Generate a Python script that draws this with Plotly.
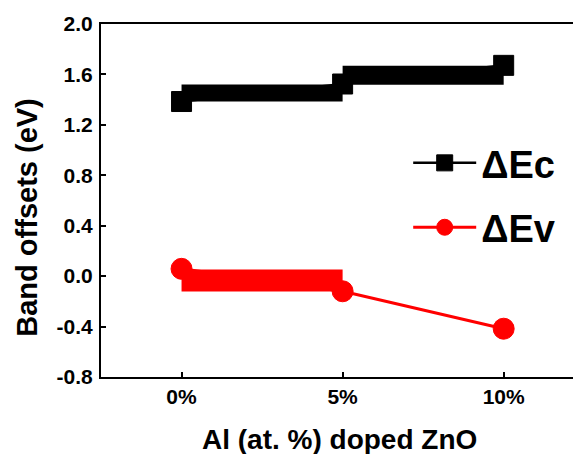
import plotly.graph_objects as go

# Data
x_pct = [0, 5, 10]
tick_text = ["0%", "5%", "10%"]
dEc = [1.385, 1.524, 1.672]
dEv = [0.058, -0.12, -0.417]

# Flat bands drawn across the composition intervals
ec_band1_x = [0, 5]
ec_band1_y = [1.452, 1.452]
ec_band2_x = [5, 10]
ec_band2_y = [1.593, 1.593]
ev_band_x = [0, 5]
ev_band_y = [-0.034, -0.034]

y_ticks = [-0.8, -0.4, 0.0, 0.4, 0.8, 1.2, 1.6, 2.0]

FONT = "Liberation Sans, Arial, sans-serif"

fig = go.Figure()

fig.add_trace(go.Scatter(x=ec_band1_x, y=ec_band1_y, mode="lines",
                         line=dict(color="black", width=17), showlegend=False, hoverinfo="skip"))
fig.add_trace(go.Scatter(x=ec_band2_x, y=ec_band2_y, mode="lines",
                         line=dict(color="black", width=19), showlegend=False, hoverinfo="skip"))
fig.add_trace(go.Scatter(x=ev_band_x, y=ev_band_y, mode="lines",
                         line=dict(color="red", width=22), showlegend=False, hoverinfo="skip"))

fig.add_trace(go.Scatter(x=x_pct, y=dEc, mode="lines+markers", name="ΔEc",
                         legendgroup="ec",
                         line=dict(color="black", width=2.5),
                         marker=dict(symbol="square", size=20, color="black",
                                     line=dict(color="black", width=1))))
fig.add_trace(go.Scatter(x=x_pct, y=dEv, mode="lines+markers", name="ΔEv",
                         legendgroup="ev",
                         line=dict(color="red", width=3),
                         marker=dict(symbol="circle", size=21, color="red",
                                     line=dict(color="red", width=1))))

# The page body has an 8px default margin, so the figure is sized to fit inside it.
fig.update_layout(
    width=573, height=446,
    margin=dict(l=93, r=0, t=16, b=76.5),
    paper_bgcolor="white", plot_bgcolor="white",
    font=dict(family=FONT, color="black"),
    showlegend=True,
    legend=dict(
        x=0.64, y=0.695, xanchor="left", yanchor="top",
        bgcolor="rgba(0,0,0,0)",
        font=dict(size=38, family=FONT, color="black", weight="bold"),
        traceorder="grouped", tracegroupgap=12,
        itemwidth=63,
    ),
    xaxis=dict(
        range=[-2.5, 12.4],
        tickmode="array", tickvals=x_pct, ticktext=tick_text,
        ticks="inside", ticklen=5, tickwidth=2, tickcolor="black",
        showline=True, linecolor="black", linewidth=2, mirror=True,
        showgrid=False, zeroline=False,
        tickfont=dict(size=21, family=FONT, color="black", weight="bold"),
    ),
    yaxis=dict(
        range=[-0.8, 2.0],
        tickmode="array", tickvals=y_ticks,
        ticktext=[f"{v:.1f}" for v in y_ticks],
        ticks="inside", ticklen=5, tickwidth=2, tickcolor="black",
        showline=True, linecolor="black", linewidth=2, mirror=False,
        showgrid=False, zeroline=False, ticklabelstandoff=2,
        tickfont=dict(size=21, family=FONT, color="black", weight="bold"),
    ),
    annotations=[
        dict(text="Band offsets (eV)", xref="paper", yref="paper",
             x=-0.153, y=0.45, xanchor="center", yanchor="middle",
             textangle=-90, showarrow=False,
             font=dict(size=29, family=FONT, color="black", weight="bold")),
        dict(text="Al (at. %) doped ZnO", xref="paper", yref="paper",
             x=0.496, y=-0.177, xanchor="center", yanchor="middle",
             showarrow=False,
             font=dict(size=28, family=FONT, color="black", weight="bold")),
    ],
)

fig.write_html("out.html")
